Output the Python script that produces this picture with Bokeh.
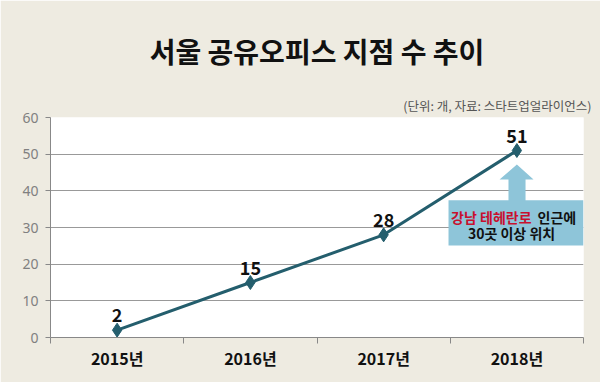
from bokeh.plotting import figure
from bokeh.models import Title, FixedTicker, ColumnDataSource, Range1d
from bokeh.core.properties import value
from bokeh.embed import file_html
from bokeh.resources import INLINE

categories = ["2015년", "2016년", "2017년", "2018년"]
counts = [2, 15, 28, 51]
y_ticks = [0, 10, 20, 30, 40, 50, 60]
title_text = "서울 공유오피스 지점 수 추이"
source_text = "(단위: 개, 자료: 스타트업얼라이언스)"
note_red = "강남 테헤란로"
note_black = "인근에"
note_line2 = "30곳 이상 위치"

KR = "Noto Sans CJK KR"
BG = "#EEEBE1"
TEAL = "#245E6D"

xs = [i + 0.5 for i in range(len(categories))]

p = figure(width=600, height=382, output_backend="svg", toolbar_location=None,
           x_range=Range1d(0, len(categories)), y_range=Range1d(0, 60),
           background_fill_color="white", border_fill_color=BG,
           min_border_left=50, min_border_right=17, min_border_bottom=45, min_border_top=117)
p.outline_line_color = None

p.title.text = title_text
p.title.align = "center"
p.title.text_font = KR
p.title.text_font_style = "bold"
p.title.text_font_size = "28px"
p.title.text_color = "#111111"
p.title.standoff = 40
p.title.offset = -12
p.add_layout(Title(text=source_text, align="right", text_font=KR, text_font_size="12.5px",
                   text_font_style="normal", text_color="#555555", standoff=6, offset=-8), "above")

# axes
p.xaxis.ticker = FixedTicker(ticks=xs, minor_ticks=list(range(len(categories) + 1)))
p.xaxis.major_label_overrides = {x: c for x, c in zip(xs, categories)}
p.xaxis.major_tick_out = 0
p.xaxis.major_tick_in = 0
p.xaxis.minor_tick_out = 6
p.xaxis.minor_tick_in = 0
p.xaxis.minor_tick_line_color = "#888888"
p.xaxis.axis_line_color = "#888888"
p.xaxis.major_label_text_font = KR
p.xaxis.major_label_text_font_style = "bold"
p.xaxis.major_label_text_font_size = "16px"
p.xaxis.major_label_text_color = "#111111"
p.xaxis.major_label_standoff = 2

p.yaxis.ticker = FixedTicker(ticks=y_ticks)
p.yaxis.major_tick_out = 5
p.yaxis.major_tick_in = 0
p.yaxis.minor_tick_line_color = None
p.yaxis.axis_line_color = "#888888"
p.yaxis.major_tick_line_color = "#888888"
p.yaxis.major_label_text_font = "Noto Sans"
p.yaxis.major_label_text_font_size = "14px"
p.yaxis.major_label_text_color = "#808080"
p.yaxis.major_label_standoff = 7

p.xgrid.grid_line_color = None
p.ygrid.grid_line_color = "#999999"
p.ygrid.grid_line_width = 1

src = ColumnDataSource(dict(x=xs, y=counts, lab=[str(c) for c in counts]))
p.line("x", "y", source=src, line_color=TEAL, line_width=3)
p.scatter("x", "y", source=src, marker="diamond", size=14, fill_color=TEAL, line_color=TEAL)
p.text("x", "y", text="lab", source=src, text_align="center", text_baseline="bottom",
       y_offset=-8, text_font=value(KR), text_font_style="bold", text_font_size="18px",
       text_color="#111111")

# annotation arrow + box
ax = xs[-1]
p.patch([ax, ax + 0.125, ax + 0.065, ax + 0.065, ax - 0.063, ax - 0.063, ax - 0.13],
        [47.2, 43.1, 43.1, 37.0, 37.0, 43.1, 43.1],
        fill_color="#8EC5D9", line_color=None)
p.quad(left=[2.987], right=[4.0], top=[37.4], bottom=[25.1], fill_color="#8EC5D9", line_color=None)
p.text([ax + 0.11], [33.0], text=[note_red], text_align="right", text_baseline="middle",
       text_font=value(KR), text_font_style="bold", text_font_size="14px", text_color="#C8102E")
p.text([ax + 0.155], [33.0], text=[note_black], text_align="left", text_baseline="middle",
       text_font=value(KR), text_font_style="bold", text_font_size="14px", text_color="#111111")
p.text([ax - 0.04], [28.6], text=[note_line2], text_align="center", text_baseline="middle",
       text_font=value(KR), text_font_style="bold", text_font_size="14px", text_color="#111111")

open("out.html", "w").write(file_html(p, INLINE))
